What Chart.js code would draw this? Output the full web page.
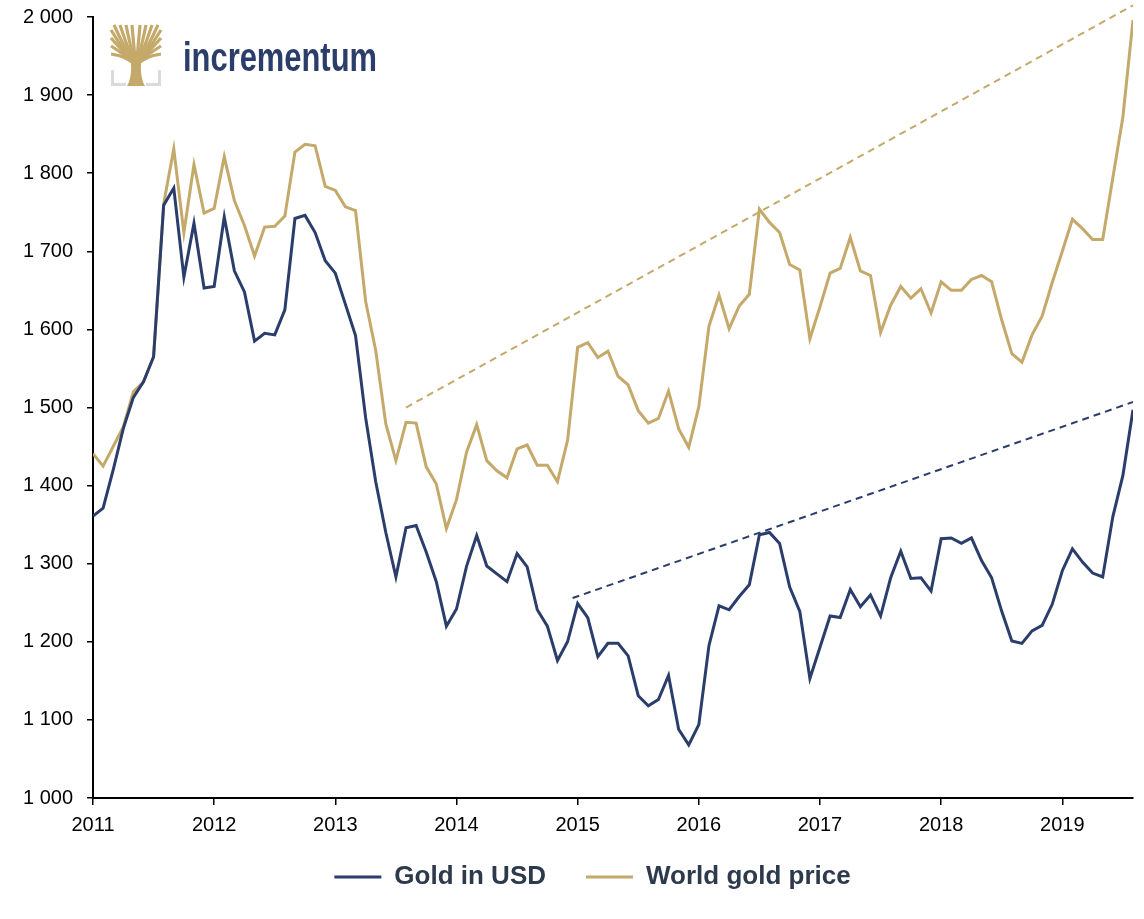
<!DOCTYPE html>
<html>
<head>
<meta charset="utf-8">
<title>Gold in USD vs World gold price</title>
<script src="https://cdn.jsdelivr.net/npm/chart.js@4.4.1/dist/chart.umd.min.js"></script>
<style>
  html, body { margin: 0; padding: 0; background: #fff; }
  #wrap { width: 1144px; height: 919px; }
</style>
</head>
<body>
<div id="wrap"><canvas id="goldChart" width="1144" height="919"></canvas></div>
<script>
// monthly data, Jan 2011 .. Aug 2019 (x = months since Jan 2011)
const startYear = 2011;
const yearTicks = [2011, 2012, 2013, 2014, 2015, 2016, 2017, 2018, 2019];

const goldUsd = [
  1361, 1371, 1420, 1473, 1513, 1533, 1565, 1759, 1781, 1667, 1736, 1653,
  1655, 1744, 1675, 1648, 1585, 1595, 1593, 1625, 1742, 1746, 1724, 1688,
  1672, 1632, 1592, 1487, 1405, 1340, 1283, 1346, 1349, 1315, 1277, 1220,
  1242, 1297, 1336, 1297, 1287, 1277, 1313, 1296, 1241, 1220, 1176, 1200,
  1249, 1231, 1181, 1198, 1198, 1182, 1131, 1118, 1126, 1157, 1088, 1068,
  1094, 1195, 1246, 1241, 1258, 1273, 1337, 1340, 1326, 1270, 1239, 1153,
  1193, 1233, 1231, 1267, 1245, 1260, 1233, 1282, 1316, 1281, 1282, 1265,
  1332, 1333, 1326, 1333, 1304, 1282, 1239, 1201, 1198, 1214, 1221, 1248,
  1291, 1319, 1302, 1288, 1283, 1360, 1413, 1497
];

const worldGold = [
  1441, 1425, 1450, 1475, 1520, 1533, 1565, 1761, 1831, 1724, 1811, 1749,
  1755, 1821, 1765, 1733, 1694, 1731, 1732, 1745, 1827, 1837, 1835, 1783,
  1778, 1757, 1752, 1636, 1573, 1479, 1432, 1481, 1480, 1424, 1402, 1345,
  1382, 1443, 1478, 1432, 1419, 1410, 1447, 1452, 1426, 1426, 1405, 1458,
  1577, 1583, 1564, 1572, 1540, 1529, 1496, 1480, 1486, 1521, 1473, 1449,
  1501, 1604, 1644, 1601, 1630, 1645, 1754, 1737, 1724, 1683, 1676, 1588,
  1629, 1672, 1678, 1718, 1675, 1669, 1596, 1631, 1655, 1640, 1652, 1621,
  1661, 1650, 1650, 1664, 1669, 1661, 1612, 1569, 1558, 1593, 1617, 1660,
  1700, 1741, 1729, 1715, 1715, 1794, 1872, 1996
];

// dashed trend lines (month index, value)
const usdTrendX = [47.5, 103];
const usdTrendY = [1256, 1507];
const worldTrendX = [31, 103];
const worldTrendY = [1500, 2015];

const navy = "#2b3d6b";
const gold = "#c4a96a";
const fontFamily = '"Liberation Sans", Arial, sans-serif';

const toPoints = (values) => values.map((v, i) => ({ x: i, y: v }));
const pairPoints = (xs, ys) => xs.map((x, i) => ({ x: x, y: ys[i] }));
const spaced = (v) => String(v).replace(/\B(?=(\d{3})+(?!\d))/g, " ");

// incrementum logo in the top left corner
const logoPlugin = {
  id: "logo",
  afterDraw(chart) {
    const ctx = chart.ctx;
    ctx.save();

    // grey brackets
    ctx.strokeStyle = "#dadada";
    ctx.lineWidth = 3;
    ctx.beginPath();
    ctx.moveTo(112.5, 70); ctx.lineTo(112.5, 84.5); ctx.lineTo(126, 84.5);
    ctx.stroke();
    ctx.beginPath();
    ctx.moveTo(159.5, 70); ctx.lineTo(159.5, 84.5); ctx.lineTo(146, 84.5);
    ctx.stroke();

    // trunk
    ctx.fillStyle = gold;
    ctx.beginPath();
    ctx.moveTo(127, 86); ctx.lineTo(145, 86);
    ctx.quadraticCurveTo(140, 78, 141, 62);
    ctx.lineTo(131, 62);
    ctx.quadraticCurveTo(132, 78, 127, 86);
    ctx.closePath();
    ctx.fill();

    // branches
    const tips = [[111, 30], [111, 38], [111, 46], [111, 54], [114, 25], [120, 25], [126, 25], [132, 25],
      [140, 25], [146, 25], [152, 25], [158, 25], [161, 30], [161, 38], [161, 46], [161, 54]];
    ctx.strokeStyle = gold;
    ctx.lineWidth = 3.2;
    ctx.lineCap = "butt";
    tips.forEach(([tx, ty]) => {
      ctx.beginPath();
      ctx.moveTo(136, 66);
      ctx.quadraticCurveTo(136 + (tx - 136) * 0.35, 56, tx, ty);
      ctx.stroke();
    });

    // wordmark
    ctx.fillStyle = navy;
    ctx.font = "bold 40px " + fontFamily;
    ctx.textBaseline = "alphabetic";
    const w = ctx.measureText("incrementum").width;
    ctx.translate(183, 71);
    ctx.scale(194 / w, 1);
    ctx.fillText("incrementum", 0, 0);
    ctx.restore();
  }
};

// move the legend to where the original sits
const legendPlace = {
  id: "legendPlace",
  afterLayout(chart) {
    const lg = chart.legend;
    const h = lg.bottom - lg.top;
    lg.top = 824;
    lg.bottom = 824 + h;
    lg.left = 52;
  }
};

new Chart(document.getElementById("goldChart"), {
  type: "line",
  data: {
    datasets: [
      {
        label: "Gold in USD",
        data: toPoints(goldUsd),
        borderColor: navy,
        backgroundColor: navy,
        borderWidth: 3,
        pointRadius: 0,
        tension: 0
      },
      {
        label: "World gold price",
        data: toPoints(worldGold),
        borderColor: gold,
        backgroundColor: gold,
        borderWidth: 3,
        pointRadius: 0,
        tension: 0
      },
      {
        label: "usd trend",
        data: pairPoints(usdTrendX, usdTrendY),
        borderColor: navy,
        borderWidth: 2,
        borderDash: [7, 5],
        pointRadius: 0
      },
      {
        label: "world trend",
        data: pairPoints(worldTrendX, worldTrendY),
        borderColor: gold,
        borderWidth: 2,
        borderDash: [7, 5],
        pointRadius: 0,
        clip: false
      }
    ]
  },
  options: {
    responsive: false,
    animation: false,
    layout: { padding: { top: 17, right: 11, bottom: 5, left: 0 } },
    plugins: {
      tooltip: { enabled: false },
      legend: {
        position: "bottom",
        labels: {
          generateLabels: (chart) => Chart.defaults.plugins.legend.labels.generateLabels(chart)
            .filter((item) => item.datasetIndex < 2)
            .map((item) => Object.assign(item, { lineWidth: 0 })),
          boxWidth: 47,
          boxHeight: 3,
          padding: 40,
          color: "#2d3a4b",
          font: { family: fontFamily, size: 26, weight: "bold" }
        }
      }
    },
    scales: {
      x: {
        type: "linear",
        min: 0,
        max: 103,
        afterFit: (s) => { s.height = 40; s.paddingLeft = 0; s.paddingRight = 0; },
        afterBuildTicks: (s) => { s.ticks = yearTicks.map((y) => ({ value: (y - startYear) * 12 })); },
        ticks: {
          callback: (v) => String(startYear + v / 12),
          color: "#000",
          padding: 8,
          maxRotation: 0,
          font: { family: fontFamily, size: 20 }
        },
        grid: { drawOnChartArea: false, drawTicks: true, tickLength: 7, color: "#000", lineWidth: 1.5 },
        border: { color: "#000", width: 2 }
      },
      y: {
        min: 1000,
        max: 2000,
        afterFit: (s) => { s.width = 93; s.paddingTop = 0; s.paddingBottom = 0; },
        ticks: {
          stepSize: 100,
          callback: (v) => spaced(v),
          color: "#000",
          padding: 14,
          font: { family: fontFamily, size: 20 }
        },
        grid: { drawOnChartArea: false, drawTicks: true, tickLength: 6, color: "#000", lineWidth: 1.5 },
        border: { color: "#000", width: 2 }
      }
    }
  },
  plugins: [logoPlugin, legendPlace]
});
</script>
</body>
</html>
